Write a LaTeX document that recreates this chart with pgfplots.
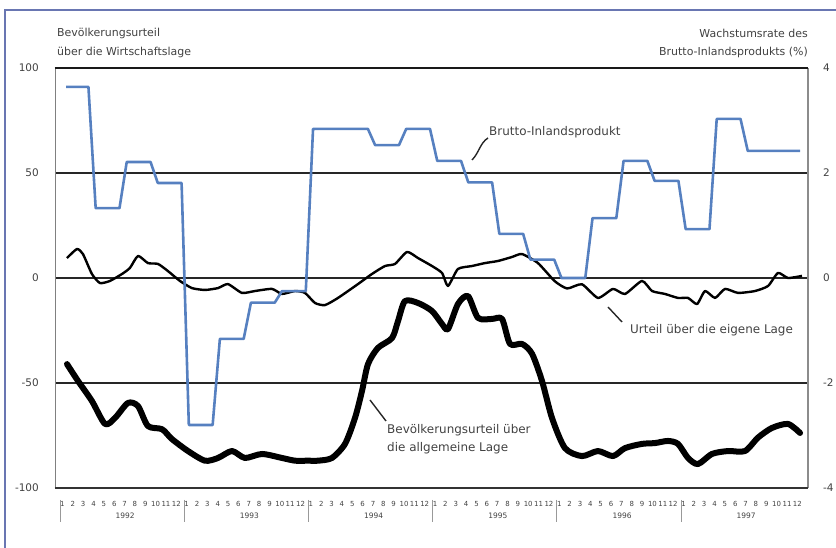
\documentclass[border=0pt]{standalone}
\usepackage{fontspec}
\setmainfont{DejaVu Sans}
\usepackage{pgfplots}
\pgfplotsset{compat=1.18}
\definecolor{bip}{RGB}{86,128,192}
\definecolor{txt}{RGB}{65,65,65}
\definecolor{rahmen}{RGB}{105,118,178}

% Bruttoinlandsprodukt, Wachstumsrate (%), quartalsweise Stufen
\pgfplotstableread{
t v
0.60 3.64
2.75 3.64
3.45 1.33
5.75 1.33
6.45 2.21
8.75 2.21
9.45 1.81
11.75 1.81
12.45 -2.80
14.75 -2.80
15.45 -1.16
17.75 -1.16
18.45 -0.47
20.75 -0.47
21.45 -0.25
23.75 -0.25
24.45 2.84
29.75 2.84
30.45 2.53
32.75 2.53
33.45 2.84
35.75 2.84
36.45 2.23
38.75 2.23
39.45 1.82
41.75 1.82
42.45 0.84
44.75 0.84
45.45 0.35
47.75 0.35
48.45 0.00
50.75 0.00
51.45 1.14
53.75 1.14
54.45 2.23
56.75 2.23
57.45 1.85
59.75 1.85
60.45 0.93
62.75 0.93
63.45 3.03
65.75 3.03
66.45 2.42
71.50 2.42
}\bip

% Urteil ueber die eigene Lage
\pgfplotstableread{
t v
0.68 9.5
1.64 13.8
2.22 11.4
3.09 1.9
3.86 -2.4
4.83 -1.4
5.99 1.9
6.76 4.8
7.54 10.5
8.50 7.1
9.47 6.7
10.43 3.3
11.59 -1.4
12.75 -4.8
14.01 -5.7
15.27 -4.8
16.23 -2.9
17.58 -7.1
18.84 -6.2
20.48 -5.2
21.45 -7.6
22.71 -6.2
23.67 -7.1
24.64 -11.9
25.60 -12.9
26.86 -9.5
28.79 -2.9
30.14 1.9
31.40 5.7
32.37 6.7
33.53 12.4
34.59 9.5
35.94 5.7
36.91 2.4
37.49 -3.8
38.45 4.3
39.81 5.7
41.06 7.1
42.32 8.1
43.67 10.0
44.64 11.4
46.18 7.1
47.80 -1.5
49.00 -5.0
50.43 -3.0
51.98 -9.5
53.43 -5.2
54.59 -7.6
56.23 -1.4
57.20 -6.2
58.45 -7.6
59.71 -9.5
60.68 -9.5
61.55 -12.4
62.32 -6.2
63.29 -9.5
64.25 -5.2
65.51 -7.1
67.15 -6.2
68.41 -3.8
69.37 2.4
70.34 0.0
71.69 1.0
}\eigen

% Bevoelkerungsurteil ueber die allgemeine Lage
\pgfplotstableread{
t v
0.68 -41
1.74 -49
3.09 -58.6
4.35 -69.5
5.31 -66.7
6.57 -59.5
7.54 -61
8.50 -70.5
9.86 -72
10.82 -76.7
12.37 -82.4
14.01 -87
15.27 -85.7
16.62 -82.4
17.87 -85.7
19.52 -83.8
21.45 -85.7
22.71 -87
23.96 -87
24.93 -87
26.28 -85.7
27.54 -79
28.50 -66.7
29.18 -53.8
29.76 -41
30.72 -33.3
32.08 -28.6
32.66 -20.5
33.33 -11
34.59 -11.9
35.94 -15.7
36.91 -21.9
37.49 -24.3
38.45 -12.4
39.42 -8.6
40.39 -19
41.74 -19.5
42.71 -19.5
43.48 -31.4
44.64 -31.4
45.60 -36
46.57 -49
47.54 -66.7
48.79 -81
50.43 -84.8
51.98 -82.4
53.43 -84.8
54.59 -81
56.23 -79
57.49 -78.6
58.74 -77.6
59.71 -79
60.68 -85.7
61.64 -88.6
62.99 -83.8
64.54 -82.4
66.18 -82.4
67.44 -76
68.79 -71.4
70.34 -69.5
71.50 -73.8
}\allg

\begin{document}
\begin{tikzpicture}[x=1bp,y=1bp]
\useasboundingbox (-55,-60) rectangle (781,488);
\draw[rahmen, line width=1.3bp] (-50,-62) -- (-50,478) -- (790,478);

\begin{axis}[
  at={(0,0)}, anchor=south west,
  scale only axis, width=753bp, height=420bp,
  xmin=-0.48, xmax=72.27, ymin=-100, ymax=100,
  clip=false,
  axis line style={draw=none},
  major tick length=0pt,
  ytick={-100,-50,0,50,100},
  yticklabels={-100,-50,0,50,100},
  yticklabel style={anchor=east, inner sep=0pt, xshift=-16bp,
    font=\fontsize{10.5}{12}\selectfont, text=txt},
  xtick={0,1,...,71},
  xticklabels={1,2,3,4,5,6,7,8,9,10,11,12,1,2,3,4,5,6,7,8,9,10,11,12,
    1,2,3,4,5,6,7,8,9,10,11,12,1,2,3,4,5,6,7,8,9,10,11,12,
    1,2,3,4,5,6,7,8,9,10,11,12,1,2,3,4,5,6,7,8,9,10,11,12},
  xticklabel style={anchor=north, inner sep=0pt, yshift=-13bp, xshift=2.5bp,
    font=\fontsize{7}{8}\selectfont, text=txt},
  ymajorgrids,
  major grid style={black!85, line width=1.6bp},
]
\draw[black!50, line width=0.9bp] (rel axis cs:0,0) -- (rel axis cs:0,1);
\draw[black!45, line width=2bp] (rel axis cs:1,0) -- (rel axis cs:1,1);
\draw[black!90, line width=2.8bp] (rel axis cs:0,1) -- (rel axis cs:1,1);
\draw[black!80, line width=2.8bp] (rel axis cs:0,0) -- (rel axis cs:1,0);
\pgfplotsinvokeforeach{0,12,24,36,48,60}{
  \draw[black!40, line width=0.8bp] ([yshift=-12bp]axis cs:#1,-100) -- ([yshift=-34bp]axis cs:#1,-100);
}
\node[font=\fontsize{7.5}{8}\selectfont, text=txt] at ([yshift=-28bp]axis cs:6.3,-100) {1992};
\node[font=\fontsize{7.5}{8}\selectfont, text=txt] at ([yshift=-28bp]axis cs:18.3,-100) {1993};
\node[font=\fontsize{7.5}{8}\selectfont, text=txt] at ([yshift=-28bp]axis cs:30.3,-100) {1994};
\node[font=\fontsize{7.5}{8}\selectfont, text=txt] at ([yshift=-28bp]axis cs:42.3,-100) {1995};
\node[font=\fontsize{7.5}{8}\selectfont, text=txt] at ([yshift=-28bp]axis cs:54.3,-100) {1996};
\node[font=\fontsize{7.5}{8}\selectfont, text=txt] at ([yshift=-28bp]axis cs:66.3,-100) {1997};
\addplot[black, line width=2.4bp, line join=round, smooth, tension=0.35] table[x=t, y=v] {\eigen};
\addplot[black, line width=6bp, line join=round, line cap=round, smooth, tension=0.45] table[x=t, y=v] {\allg};
\end{axis}

\begin{axis}[
  at={(0,0)}, anchor=south west,
  scale only axis, width=753bp, height=420bp,
  xmin=-0.48, xmax=72.27, ymin=-4, ymax=4,
  axis line style={draw=none},
  major tick length=0pt,
  hide x axis,
  axis y line*=right,
  ytick={-4,-2,0,2,4},
  yticklabels={-4,-2,0,2,4},
  yticklabel style={anchor=west, inner sep=0pt, xshift=15bp,
    font=\fontsize{10.5}{12}\selectfont, text=txt},
]
\addplot[bip, line width=2.6bp, line join=round] table[x=t, y=v] {\bip};
\end{axis}

% Achsentitel
\node[anchor=west, text=txt, font=\fontsize{11}{12}\selectfont, inner sep=0pt] at (2,455) {Bevölkerungsurteil};
\node[anchor=west, text=txt, font=\fontsize{11}{12}\selectfont, inner sep=0pt] at (2,436) {über die Wirtschaftslage};
\node[anchor=east, text=txt, font=\fontsize{11}{12}\selectfont, inner sep=0pt] at (753,455) {Wachstumsrate des};
\node[anchor=east, text=txt, font=\fontsize{11}{12}\selectfont, inner sep=0pt] at (753,436) {Brutto-Inlandsprodukts (\%)};

% Beschriftungen
\draw[black!85, line width=1.4bp] (433,350) .. controls (425,345) and (424,335) .. (417,328);
\node[anchor=west, text=txt, font=\fontsize{12}{13}\selectfont, inner sep=0pt] at (434,356) {Brutto-Inlandsprodukt};
\draw[black!85, line width=1.4bp] (315,88) -- (331,67);
\node[anchor=west, text=txt, font=\fontsize{12}{13}\selectfont, inner sep=0pt] at (332,58) {Bevölkerungsurteil über};
\node[anchor=west, text=txt, font=\fontsize{12}{13}\selectfont, inner sep=0pt] at (332,40) {die allgemeine Lage};
\draw[black!85, line width=1.4bp] (553,181) -- (567,166);
\node[anchor=west, text=txt, font=\fontsize{12}{13}\selectfont, inner sep=0pt] at (575,158) {Urteil über die eigene Lage};
\end{tikzpicture}
\end{document}
